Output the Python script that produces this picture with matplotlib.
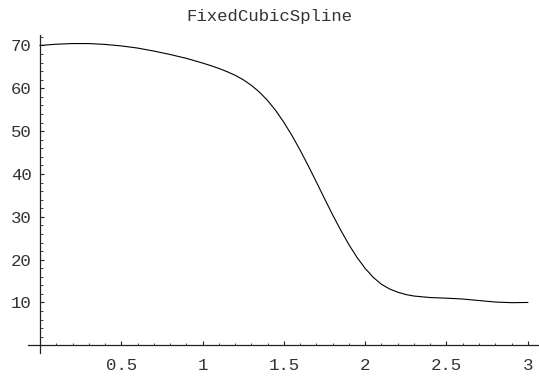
import matplotlib
matplotlib.use("Agg")
import matplotlib.pyplot as plt
import numpy as np

# values
x = [0.0, 0.1, 0.2, 0.3, 0.4, 0.5, 0.6, 0.7, 0.8, 0.9,
     1.0, 1.05, 1.1, 1.15, 1.2, 1.25, 1.3, 1.35, 1.4, 1.45,
     1.5, 1.55, 1.6, 1.65, 1.7, 1.75, 1.8, 1.85, 1.9, 1.95,
     2.0, 2.05, 2.1, 2.15, 2.2, 2.25, 2.3, 2.4, 2.5, 2.6,
     2.7, 2.8, 2.9, 3.0]
y = [70.0, 70.3, 70.45, 70.45, 70.25, 69.9, 69.4, 68.7, 67.9, 67.0,
     65.9, 65.3, 64.65, 63.9, 63.05, 62.0, 60.7, 59.1, 57.15, 54.8,
     52.05, 48.95, 45.55, 41.9, 38.1, 34.25, 30.45, 26.85, 23.5, 20.5,
     17.95, 15.85, 14.25, 13.15, 12.4, 11.85, 11.5, 11.15, 11.0, 10.8,
     10.45, 10.1, 9.95, 10.0]

xticks = [0.5, 1, 1.5, 2, 2.5, 3]
xlabels = ["0.5", "1", "1.5", "2", "2.5", "3"]
yticks = [10, 20, 30, 40, 50, 60, 70]
ylabels = ["10", "20", "30", "40", "50", "60", "70"]

mono = "Liberation Mono"

fig = plt.figure(figsize=(5.39, 3.79), dpi=100)
ax = fig.add_axes([0, 0, 1, 1])
ax.plot(x, y, color="black", lw=0.8, solid_joinstyle="round")

ax.set_xlim(-0.246, 3.069)
ax.set_ylim(-7.87, 80.62)

for s in ["top", "right"]:
    ax.spines[s].set_visible(False)
ax.spines["left"].set_position(("data", 0))
ax.spines["bottom"].set_position(("data", 0))
ax.spines["left"].set_bounds(-1.87, 72.4)
ax.spines["bottom"].set_bounds(-0.074, 3.069)
for s in ["left", "bottom"]:
    ax.spines[s].set_linewidth(0.9)
    ax.spines[s].set_color("#222222")

ax.set_xticks(xticks)
ax.set_xticklabels(xlabels, fontfamily=mono, fontsize=12.5, color="#333333")
ax.set_yticks(yticks)
ax.set_yticklabels(ylabels, fontfamily=mono, fontsize=12.5, color="#333333")
# minor ticks only inside the drawn axis lines
ax.set_xticks(np.arange(1, 31) / 10, minor=True)
ax.set_yticks(np.arange(1, 37) * 2, minor=True)
ax.tick_params(which="major", direction="in", length=3.2, width=0.8, color="#222222")
ax.tick_params(which="minor", direction="in", length=1.8, width=0.6, color="#222222")
ax.tick_params(axis="x", pad=9)
ax.tick_params(axis="y", pad=6)

fig.text(0.5, 0.975, "FixedCubicSpline", ha="center", va="top",
         fontfamily=mono, fontsize=12.5, color="#333333")

fig.savefig("out.png", dpi=100)
